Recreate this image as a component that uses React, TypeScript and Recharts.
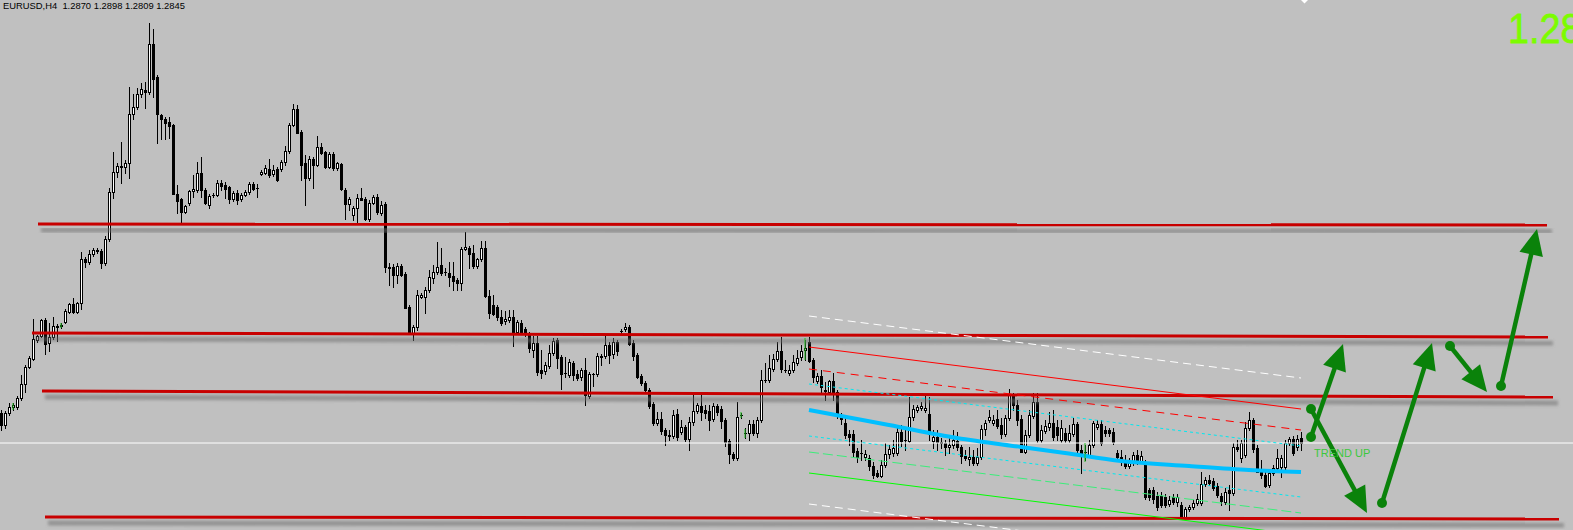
import React from "react";
import { ComposedChart, Bar, Line, XAxis, YAxis, ReferenceLine } from "recharts";

// EURUSD H4 bars, prices in pips (1.2845 -> 12845)
const opens = [
  12995, 12935, 12995, 13025, 13025, 13070, 13140, 13225, 13265, 13360,
  13380, 13460, 13345, 13375, 13430, 13430, 13450, 13500, 13540, 13500,
  13545, 13765, 13750, 13790, 13810, 13805, 13745, 13865, 14100, 14200,
  14230, 14225, 14245, 14490, 14525, 14590, 14610, 14600, 14840, 14675,
  14485, 14465, 14450, 14435, 14090, 14065, 14000, 14045, 14105, 14110,
  14195, 14110, 14035, 14085, 14085, 14145, 14135, 14125, 14065, 14095,
  14065, 14085, 14100, 14140, 14120, 14190, 14195, 14215, 14190, 14215,
  14215, 14250, 14305, 14435, 14515, 14400, 14245, 14170, 14265, 14235,
  14325, 14300, 14225, 14290, 14220, 14240, 14110, 14040, 13985, 14020,
  14070, 14065, 13965, 14045, 14075, 13995, 14040, 13725, 13725, 13685,
  13730, 13690, 13525, 13395, 13425, 13575, 13575, 13610, 13670, 13700,
  13735, 13700, 13695, 13680, 13660, 13645, 13815, 13820, 13795, 13730,
  13765, 13820, 13580, 13535, 13525, 13475, 13455, 13460, 13475, 13400,
  13445, 13415, 13395, 13310, 13345, 13210, 13205, 13230, 13295, 13360,
  13275, 13195, 13185, 13245, 13190, 13175, 13210, 13080, 13190, 13190,
  13275, 13280, 13335, 13290, 13350, 13405, 13415, 13425, 13345, 13285,
  13180, 13145, 13110, 13040, 12945, 12965, 12910, 12885, 12880, 12990,
  12900, 12925, 12865, 12950, 13005, 13030, 13010, 13005, 12965, 13030,
  13015, 12960, 12855, 12790, 12770, 12985, 12895, 12895, 12940, 12895,
  12960, 13160, 13160, 13215, 13265, 13305, 13210, 13195, 13210, 13245,
  13275, 13310, 13350, 13260, 13155, 13180, 13110, 13100, 13155, 13100,
  12985, 12945, 12890, 12890, 12805, 12795, 12775, 12770, 12730, 12695,
  12680, 12735, 12790, 12795, 12795, 12900, 12860, 12855, 12975, 13010,
  13020, 13010, 12990, 12855, 12875, 12850, 12845, 12825, 12835, 12855,
  12825, 12780, 12765, 12775, 12745, 12775, 12915, 12960, 12945, 12965,
  12935, 12890, 12970, 13080, 13035, 12965, 12800, 12885, 12980, 13050,
  12860, 12905, 12925, 12945, 12925, 12860, 12895, 12860, 12890, 12940,
  12810, 12800, 12785, 12835, 12925, 12940, 12910, 12910, 12900, 12795,
  12775, 12755, 12730, 12745, 12785, 12755, 12745, 12610, 12610, 12580,
  12580, 12575, 12540, 12575, 12550, 12535, 12475, 12515, 12525, 12545,
  12545, 12640, 12660, 12655, 12630, 12580, 12550, 12610, 12595, 12825,
  12770, 12785, 12920, 12960, 12820, 12700, 12685, 12635, 12695, 12720,
  12725, 12725, 12845, 12865, 12825, 12870,
];
const highs = [
  13010, 13005, 13045, 13045, 13080, 13185, 13235, 13280, 13465, 13385,
  13465, 13470, 13445, 13475, 13440, 13445, 13515, 13545, 13570, 13550,
  13800, 13775, 13810, 13820, 13820, 13815, 13880, 14120, 14300, 14245,
  14350, 14260, 14625, 14590, 14620, 14645, 14650, 14945, 14915, 14685,
  14490, 14475, 14475, 14440, 14135, 14070, 14035, 14110, 14185, 14250,
  14275, 14120, 14090, 14095, 14160, 14160, 14150, 14130, 14105, 14110,
  14095, 14110, 14150, 14150, 14140, 14210, 14235, 14265, 14235, 14225,
  14260, 14330, 14445, 14540, 14535, 14410, 14285, 14280, 14275, 14380,
  14345, 14305, 14300, 14300, 14250, 14245, 14120, 14075, 14030, 14090,
  14120, 14075, 14060, 14085, 14090, 14055, 14050, 13745, 13740, 13745,
  13740, 13700, 13535, 13435, 13610, 13595, 13625, 13710, 13735, 13850,
  13820, 13720, 13750, 13750, 13670, 13825, 13900, 13830, 13835, 13770,
  13855, 13855, 13610, 13585, 13535, 13510, 13505, 13510, 13510, 13460,
  13460, 13425, 13400, 13380, 13380, 13310, 13250, 13335, 13370, 13370,
  13285, 13275, 13265, 13255, 13210, 13220, 13270, 13200, 13195, 13295,
  13290, 13385, 13350, 13370, 13360, 13415, 13445, 13435, 13360, 13295,
  13190, 13155, 13120, 13050, 13000, 13000, 12920, 12910, 13010, 13015,
  12960, 12935, 12975, 13100, 13045, 13100, 13035, 13035, 13045, 13040,
  13030, 12970, 12865, 12800, 13050, 12995, 12920, 12960, 12960, 12975,
  13210, 13245, 13285, 13290, 13350, 13375, 13260, 13235, 13285, 13310,
  13335, 13360, 13375, 13270, 13195, 13210, 13150, 13160, 13195, 13110,
  12995, 12985, 12910, 12910, 12820, 12860, 12810, 12785, 12750, 12710,
  12760, 12845, 12835, 12860, 12920, 12935, 12910, 13075, 13035, 13035,
  13050, 13085, 13075, 12910, 12910, 12870, 12860, 12885, 12910, 12900,
  12835, 12810, 12825, 12810, 12820, 12935, 12960, 13010, 12985, 13010,
  12970, 12985, 13115, 13095, 13060, 12985, 12910, 13010, 13095, 13095,
  12935, 12960, 13000, 13010, 12960, 12960, 12920, 12935, 12970, 12950,
  12835, 12835, 12860, 12955, 12960, 12960, 12930, 12920, 12920, 12810,
  12810, 12785, 12770, 12800, 12810, 12805, 12760, 12620, 12625, 12600,
  12600, 12590, 12580, 12590, 12590, 12550, 12525, 12535, 12560, 12590,
  12700, 12675, 12685, 12670, 12645, 12595, 12620, 12635, 12845, 12860,
  12860, 12950, 13000, 12970, 12835, 12760, 12700, 12710, 12735, 12815,
  12785, 12860, 12875, 12880, 12885, 12898,
];
const lows = [
  12910, 12920, 12985, 13010, 13015, 13060, 13100, 13220, 13260, 13350,
  13375, 13290, 13305, 13365, 13355, 13420, 13445, 13495, 13495, 13495,
  13515, 13725, 13740, 13780, 13795, 13720, 13735, 13855, 14070, 14175,
  14145, 14195, 14170, 14465, 14515, 14575, 14520, 14590, 14575, 14345,
  14365, 14365, 14370, 14090, 13995, 13940, 13995, 14035, 14075, 14100,
  14075, 14040, 14020, 14075, 14080, 14110, 14070, 14045, 14055, 14040,
  14055, 14080, 14090, 14110, 14075, 14185, 14190, 14175, 14180, 14155,
  14205, 14235, 14295, 14430, 14395, 14160, 14035, 14160, 14120, 14230,
  14290, 14220, 14220, 14210, 14210, 14110, 13965, 14010, 13960, 13950,
  14060, 13960, 13955, 14040, 13990, 13985, 13700, 13635, 13625, 13645,
  13680, 13520, 13395, 13360, 13410, 13570, 13495, 13600, 13645, 13690,
  13685, 13685, 13630, 13610, 13610, 13610, 13810, 13720, 13720, 13720,
  13755, 13575, 13470, 13485, 13460, 13435, 13440, 13450, 13330, 13390,
  13390, 13380, 13300, 13275, 13185, 13170, 13190, 13220, 13285, 13220,
  13115, 13175, 13175, 13160, 13160, 13160, 13035, 13070, 13130, 13180,
  13235, 13270, 13245, 13270, 13285, 13395, 13405, 13335, 13260, 13170,
  13135, 13100, 13020, 12935, 12935, 12890, 12835, 12860, 12870, 12860,
  12890, 12855, 12810, 12935, 12995, 12960, 12970, 12910, 12955, 12985,
  12920, 12830, 12745, 12760, 12760, 12970, 12870, 12860, 12885, 12875,
  12950, 13150, 13150, 13205, 13255, 13200, 13200, 13185, 13200, 13235,
  13260, 13260, 13250, 13150, 13145, 13100, 13060, 13090, 13060, 12970,
  12940, 12870, 12835, 12780, 12750, 12760, 12760, 12710, 12670, 12675,
  12675, 12725, 12770, 12780, 12785, 12830, 12810, 12850, 12960, 13000,
  13010, 13000, 12860, 12820, 12810, 12820, 12785, 12795, 12820, 12810,
  12745, 12760, 12735, 12735, 12735, 12765, 12885, 12950, 12935, 12920,
  12870, 12880, 12960, 13010, 12935, 12800, 12795, 12875, 12970, 12850,
  12850, 12895, 12910, 12860, 12860, 12850, 12850, 12850, 12880, 12800,
  12695, 12760, 12775, 12825, 12915, 12835, 12880, 12880, 12840, 12760,
  12735, 12720, 12720, 12735, 12740, 12745, 12565, 12560, 12545, 12510,
  12525, 12525, 12530, 12540, 12530, 12470, 12470, 12505, 12515, 12535,
  12535, 12630, 12635, 12610, 12575, 12535, 12540, 12510, 12585, 12805,
  12750, 12775, 12910, 12800, 12700, 12670, 12625, 12625, 12685, 12710,
  12675, 12710, 12835, 12785, 12810, 12809,
];
const closes = [
  12935, 12995, 13025, 13035, 13070, 13140, 13225, 13270, 13365, 13380,
  13460, 13340, 13375, 13430, 13425, 13435, 13505, 13540, 13500, 13545,
  13765, 13750, 13790, 13810, 13805, 13745, 13865, 14100, 14200, 14230,
  14225, 14245, 14490, 14525, 14590, 14615, 14600, 14840, 14665, 14490,
  14465, 14445, 14430, 14090, 14055, 14000, 14030, 14105, 14115, 14195,
  14110, 14045, 14080, 14085, 14145, 14130, 14115, 14065, 14095, 14060,
  14085, 14100, 14140, 14115, 14120, 14200, 14220, 14185, 14210, 14160,
  14250, 14305, 14435, 14515, 14395, 14235, 14170, 14265, 14235, 14325,
  14295, 14225, 14290, 14220, 14245, 14115, 14040, 14065, 14020, 14070,
  14060, 13965, 14045, 14075, 14000, 14035, 13725, 13720, 13685, 13730,
  13685, 13520, 13395, 13425, 13585, 13585, 13610, 13675, 13700, 13725,
  13695, 13700, 13675, 13655, 13645, 13815, 13825, 13790, 13730, 13765,
  13820, 13580, 13495, 13490, 13475, 13445, 13465, 13475, 13400, 13450,
  13400, 13390, 13320, 13345, 13200, 13195, 13235, 13295, 13355, 13270,
  13190, 13195, 13250, 13185, 13170, 13210, 13085, 13190, 13190, 13280,
  13280, 13335, 13285, 13350, 13305, 13405, 13425, 13340, 13280, 13175,
  13145, 13110, 13030, 12945, 12965, 12905, 12885, 12880, 12985, 12875,
  12925, 12865, 12950, 13005, 13035, 13000, 12995, 12960, 13030, 13000,
  12955, 12850, 12790, 12770, 12975, 12985, 12895, 12940, 12895, 12960,
  13160, 13160, 13220, 13265, 13305, 13215, 13210, 13210, 13250, 13270,
  13305, 13320, 13255, 13175, 13180, 13125, 13105, 13155, 13100, 12985,
  12965, 12885, 12875, 12800, 12775, 12795, 12790, 12730, 12685, 12680,
  12735, 12790, 12815, 12820, 12900, 12855, 12860, 12975, 13015, 13025,
  13030, 13020, 12890, 12875, 12850, 12845, 12825, 12835, 12860, 12825,
  12780, 12770, 12775, 12745, 12775, 12915, 12945, 12975, 12960, 12930,
  12890, 12970, 13085, 13035, 12960, 12800, 12885, 12985, 13050, 12860,
  12910, 12930, 12945, 12875, 12885, 12920, 12860, 12895, 12940, 12810,
  12785, 12800, 12835, 12945, 12940, 12845, 12895, 12895, 12850, 12775,
  12750, 12730, 12745, 12785, 12750, 12780, 12575, 12575, 12565, 12525,
  12535, 12535, 12560, 12550, 12575, 12475, 12515, 12525, 12545, 12565,
  12640, 12660, 12645, 12620, 12585, 12555, 12600, 12595, 12825, 12815,
  12845, 12920, 12960, 12815, 12700, 12685, 12630, 12695, 12720, 12770,
  12770, 12845, 12865, 12795, 12865, 12845,
];

// regression channel (straight bands) over the last bars
const channelFrom = 202;
const channelTo = 325;
const bandNames = ["wUp", "rUp2", "rUp1", "cUp", "cDn", "gDn1", "gDn2", "wDn"];
const bandStart = [13480, 13325, 13215, 13140, 12880, 12800, 12695, 12540];
const bandEnd = [13170, 13015, 12910, 12830, 12575, 12495, 12385, 12230];

// curved regression midline
const curveIdx = [202, 222, 239, 255, 266, 280, 297, 312, 325];
const curveVal = [13010, 12935, 12870, 12825, 12795, 12755, 12730, 12710, 12700];

// hand-drawn support/resistance lines (bar index, price)
const levelX1 = [9.25, 7.75, 10.25, 11];
const levelX2 = [386.5, 386.75, 388, 389.5];
const levelP1 = [13940, 13395, 13105, 12475];
const levelP2 = [13935, 13375, 13075, 12465];

// forecast arrows
const arrowX1 = [327.5, 327.5, 345.25, 362.25, 375];
const arrowP1 = [12875, 13015, 12545, 13330, 13130];
const arrowX2 = [335.5, 341.5, 357.75, 371.5, 384];
const arrowP2 = [13340, 12495, 13345, 13100, 13915];

// small signal marks
const sigX = [3, 15, 185, 186, 201, 271];
const sigHi = [13045, 13445, 13000, 12915, 13370, 12845];
const sigLo = [13010, 13420, 12970, 12870, 13260, 12750];

const BAND_STYLES: Record<string, { stroke: string; dash?: string }> = {
  wUp: { stroke: "#ffffff", dash: "8 5" },
  rUp2: { stroke: "#ff0000" },
  rUp1: { stroke: "#ff0000", dash: "8 6" },
  cUp: { stroke: "#00e8f0", dash: "3 3" },
  cDn: { stroke: "#00e8f0", dash: "3 3" },
  gDn1: { stroke: "#3ced7a", dash: "10 4" },
  gDn2: { stroke: "#00ff00" },
  wDn: { stroke: "#ffffff", dash: "8 5" },
};

const rows = opens.map((o, i) => {
  const r: Record<string, number> = { i, o, h: highs[i], l: lows[i], c: closes[i] };
  if (i === channelFrom || i === channelTo) {
    bandNames.forEach((k, j) => {
      r[k] = i === channelFrom ? bandStart[j] : bandEnd[j];
    });
  }
  const ci = curveIdx.indexOf(i);
  if (ci >= 0) r.reg = curveVal[ci];
  return r;
});

const last = opens.length - 1;
const fmt = (v: number) => (v / 10000).toFixed(4);
const header = `EURUSD,H4  ${fmt(opens[last])} ${fmt(highs[last])} ${fmt(lows[last])} ${fmt(closes[last])}`;

function Candle(props: any) {
  const { x, y, width, height, payload } = props;
  if (x == null || !payload) return null;
  const { o, h, l, c } = payload;
  const top = Math.min(y, y + height);
  const bot = Math.max(y, y + height);
  const span = h - l;
  const py = (v: number) => (span > 0 ? top + ((h - v) / span) * (bot - top) : top);
  const cx = Math.round(x + width / 2);
  const bull = c >= o;
  const b1 = Math.round(py(Math.max(o, c)));
  const b2 = Math.round(py(Math.min(o, c)));
  return (
    <g>
      <line x1={cx + 0.5} x2={cx + 0.5} y1={Math.round(top)} y2={Math.round(bot) + 1} stroke="#000" />
      {b2 - b1 >= 1 ? (
        <rect x={cx - 0.5} y={b1 + 0.5} width={2} height={b2 - b1} fill={bull ? "#fff" : "#000"} stroke="#000" />
      ) : (
        <line x1={cx - 1} x2={cx + 2} y1={b1 + 0.5} y2={b1 + 0.5} stroke="#000" />
      )}
    </g>
  );
}

function Level(props: any) {
  const { x1, y1, x2, y2 } = props;
  return (
    <g>
      <line x1={x1 + 3} y1={y1 + 6} x2={x2 + 5} y2={y2 + 6} stroke="#707070" strokeWidth={5} strokeOpacity={0.55} filter="url(#lvlShadow)" />
      <line x1={x1} y1={y1} x2={x2} y2={y2} stroke="#c80000" strokeWidth={3} />
    </g>
  );
}

function Arrow(props: any) {
  const { x1, y1, x2, y2 } = props;
  const dx = x2 - x1;
  const dy = y2 - y1;
  const len = Math.hypot(dx, dy) || 1;
  const ux = dx / len;
  const uy = dy / len;
  const L = 26;
  const W = 12;
  const bx = x2 - ux * L;
  const by = y2 - uy * L;
  const nx = -uy;
  const ny = ux;
  const col = "#0a820a";
  return (
    <g>
      <line x1={x1} y1={y1} x2={bx + ux * 2} y2={by + uy * 2} stroke={col} strokeWidth={4.5} />
      <circle cx={x1} cy={y1} r={5} fill={col} />
      <polygon points={`${x2},${y2} ${bx + nx * W},${by + ny * W} ${bx - nx * W},${by - ny * W}`} fill={col} />
    </g>
  );
}

export default function App() {
  return (
    <div style={{ position: "relative", width: 1573, height: 530, background: "#c0c0c0", overflow: "hidden" }}>
      <style>{`body{margin:0}`}</style>
      <svg width={0} height={0} style={{ position: "absolute" }}>
        <defs>
          <filter id="lvlShadow" x="-5%" y="-200%" width="110%" height="500%">
            <feGaussianBlur stdDeviation="1.6" />
          </filter>
        </defs>
      </svg>
      <ComposedChart width={1573} height={530} data={rows} margin={{ top: 0, right: 0, bottom: 0, left: 0 }}>
        <XAxis dataKey="i" type="number" domain={[-0.25, 393]} hide allowDataOverflow />
        <YAxis type="number" domain={[12410, 15060]} hide allowDataOverflow />
        <ReferenceLine y={closes[last]} stroke="#ffffff" strokeWidth={1} />
        {levelX1.map((x, k) => (
          <ReferenceLine
            key={`lvl${k}`}
            segment={[
              { x, y: levelP1[k] },
              { x: levelX2[k], y: levelP2[k] },
            ]}
            shape={Level}
          />
        ))}
        {bandNames.map((k) => (
          <Line
            key={k}
            dataKey={k}
            connectNulls
            dot={false}
            activeDot={false}
            stroke={BAND_STYLES[k].stroke}
            strokeDasharray={BAND_STYLES[k].dash}
            strokeWidth={1}
            isAnimationActive={false}
          />
        ))}
        <Line dataKey="reg" type="monotone" connectNulls dot={false} activeDot={false} stroke="#00bfff" strokeWidth={4} isAnimationActive={false} />
        <Bar dataKey={(d: any) => [d.l, d.h]} barSize={3} shape={Candle} isAnimationActive={false} />
        {sigX.map((x, k) => (
          <ReferenceLine
            key={`sig${k}`}
            segment={[
              { x, y: sigLo[k] },
              { x, y: sigHi[k] },
            ]}
            stroke="#22c022"
            strokeWidth={1}
          />
        ))}
        {arrowX1.map((x, k) => (
          <ReferenceLine
            key={`arr${k}`}
            segment={[
              { x, y: arrowP1[k] },
              { x: arrowX2[k], y: arrowP2[k] },
            ]}
            shape={Arrow}
          />
        ))}
      </ComposedChart>
      <svg width={1573} height={530} style={{ position: "absolute", left: 0, top: 0, pointerEvents: "none" }}>
        <text x={3} y={9} fontSize={9.4} fontFamily="'Liberation Sans', Arial, sans-serif" fill="#000" style={{ whiteSpace: "pre" }}>
          {header}
        </text>
        <polygon points="1301,0 1308,0 1304.5,3.5" fill="#ffffff" />
        <text x={1314} y={457} fontSize={11} fontFamily="'Liberation Sans', Arial, sans-serif" fill="#3cc83c">
          TREND UP
        </text>
        <text
          x={0}
          y={0}
          fontSize={42}
          fontFamily="'Liberation Sans', Arial, sans-serif"
          fill="#7cfc00"
          stroke="#7cfc00"
          strokeWidth={0.8}
          transform="translate(1508 43) scale(0.9 1)"
        >
          {fmt(closes[last])}
        </text>
      </svg>
    </div>
  );
}
